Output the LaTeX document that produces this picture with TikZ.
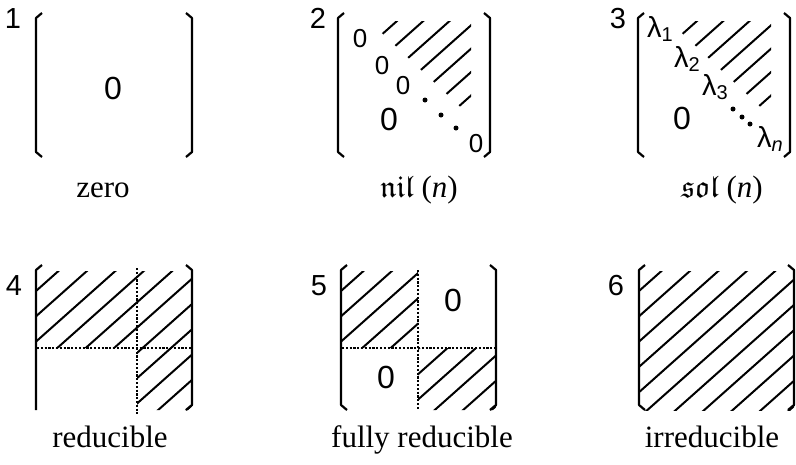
\documentclass[tikz,border=0pt]{standalone}
\usepackage{fontspec}
\setmainfont{Liberation Serif}
\newfontfamily\sansfig{Liberation Sans}
\DeclareFontFamily{U}{euf}{}
\DeclareFontShape{U}{euf}{m}{n}{<->eufm10}{}
\newcommand{\fraktext}[1]{{\usefont{U}{euf}{m}{n}#1}}
\newcommand{\lsub}[1]{\raisebox{-4pt}{\fontsize{20}{20}\selectfont #1}}

\tikzset{
  brak/.style={line width=2.2pt, line join=round},
  hatchline/.style={line width=2pt},
  dotline/.style={line width=2.2pt, dash pattern=on 2.2pt off 1.6pt},
  num/.style={font=\sansfig\fontsize{29}{31}\selectfont, anchor=base, inner sep=0pt},
  entry/.style={font=\sansfig\fontsize{32}{34}\selectfont, inner sep=0pt},
  smallentry/.style={font=\sansfig\fontsize{26}{28}\selectfont, inner sep=0pt},
  lam/.style={font=\sansfig\fontsize{29}{31}\selectfont, anchor=base west, inner sep=0pt},
  caption/.style={font=\fontsize{31}{36}\selectfont, anchor=base, inner sep=0pt},
}

\begin{document}
\begin{tikzpicture}[x=1pt, y=-1pt]
    \useasboundingbox (0,0) rectangle (796,464);
    % Brackets, top row
    \foreach \l/\r in {36/192, 338/490, 638/790} {
        \draw[brak] (\l+6,13) -- (\l,18) -- (\l,152) -- (\l+6,157);
        \draw[brak] (\r-6,13) -- (\r,18) -- (\r,152) -- (\r-6,157);
    }
    % Brackets, bottom row
    \draw[brak] (42,265) -- (36,270) -- (36,410);
    \draw[brak] (186,265) -- (192,270) -- (192,405) -- (186,410);
    \foreach \l/\r in {341/496, 639/794} {
        \draw[brak] (\l+6,265) -- (\l,270) -- (\l,405) -- (\l+6,410);
        \draw[brak] (\r-6,265) -- (\r,270) -- (\r,405) -- (\r-6,410);
    }
    % Hatching above the diagonal (2 and 3)
    \foreach \s in {338, 638} {
        \begin{scope}[shift={(\s,0)}]
            \clip (31,21) -- (133,21) -- (133,117) -- cycle;
            \foreach \k in {0,...,6}
                \draw[hatchline] (0,{73.5+23.4*\k}) -- (160,{73.5+23.4*\k-142.4});
        \end{scope}
    }
    % Hatching, bottom row
    \begin{scope}[shift={(36,0)}]
        \clip (0,271) -- (156,271) -- (156,410) -- (101,410) -- (101,348) -- (0,348) -- cycle;
        \foreach \k in {0,...,10}
            \draw[hatchline] (0,{291+25.3*\k}) -- (156,{291+25.3*\k-138.8});
    \end{scope}
    \begin{scope}[shift={(341,0)}]
        \clip (0,271) rectangle (77,348) (77,348) rectangle (155,410);
        \foreach \k in {0,...,10}
            \draw[hatchline] (0,{291+25.3*\k}) -- (156,{291+25.3*\k-138.8});
    \end{scope}
    \begin{scope}[shift={(639,0)}]
        \clip (0,271) rectangle (155,410);
        \foreach \k in {0,...,10}
            \draw[hatchline] (0,{291+25.3*\k}) -- (156,{291+25.3*\k-138.8});
    \end{scope}
    % Block borders
    \draw[dotline] (137,268) -- (137,414);
    \draw[dotline] (37,348) -- (192,348);
    \draw[dotline] (418,270) -- (418,410);
    \draw[dotline] (342,348) -- (496,348);
    % Diagonal dots
    \foreach \p in {(425,100), (441,115), (456,128), (733,109), (742,117), (750,124)}
        \fill \p circle (2.5pt);
    % Numbers
    \node[num] (num1) at (13,28)  {1};
    \node[num] (num2) at (318,28) {2};
    \node[num] (num3) at (618,28) {3};
    \node[num] (num4) at (14,295)  {4};
    \node[num] (num5) at (319,295) {5};
    \node[num] (num6) at (616,295) {6};
    % Entries
    \node[entry] (zeroA) at (113,88) {0};
    \node[smallentry] (nilA) at (360,39)  {0};
    \node[smallentry] (nilB) at (382,66)  {0};
    \node[smallentry] (nilC) at (403,86)  {0};
    \node[smallentry] (nilD) at (476,144) {0};
    \node[entry] (nilLow) at (389,119) {0};
    \node[lam] (lamA) at (647,37)  {λ\lsub{1}};
    \node[lam] (lamB) at (674,67)  {λ\lsub{2}};
    \node[lam] (lamC) at (702,95)  {λ\lsub{3}};
    \node[lam] (lamN) at (757,147) {λ\lsub{\textit{n}}};
    \node[entry] (solLow) at (682,118) {0};
    \node[entry] (fullUp) at (453,300) {0};
    \node[entry] (fullLow) at (386,377) {0};
    % Captions
    \node[caption] (cap1) at (103,197) {zero};
    \node[caption] (cap2) at (419,197) {\fraktext{nil} (\textit{n})};
    \node[caption] (cap3) at (722,197) {\fraktext{sol} (\textit{n})};
    \node[caption] (cap4) at (110,447) {reducible};
    \node[caption] (cap5) at (422,447) {fully reducible};
    \node[caption] (cap6) at (712,447) {irreducible};
\end{tikzpicture}
\end{document}
